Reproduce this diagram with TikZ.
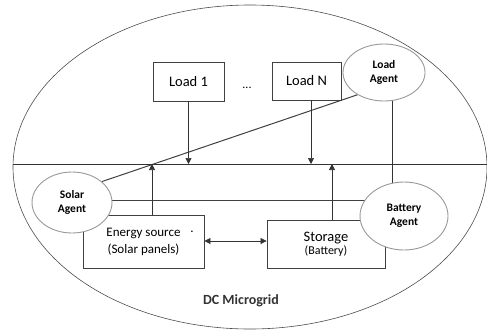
\documentclass[tikz,border=0pt]{standalone}
\usepackage{fontspec}
\setmainfont{Carlito}
\usetikzlibrary{shapes.geometric,arrows.meta}
\pgfdeclarelayer{bg}
\pgfsetlayers{bg,main}
\begin{document}
\begin{tikzpicture}[x=1pt,y=-1pt,
  box/.style={draw=black!75,line width=0.8pt,inner sep=0pt},
  agent/.style={ellipse,draw=black!40,line width=0.9pt,fill=white,inner sep=0pt,font=\bfseries\fontsize{11.5}{14}\selectfont,align=center},
  arr/.style={-{Triangle[length=6pt,width=6pt]},line width=0.7pt,draw=black!80},
  link/.style={line width=1pt,draw=black!75}]
\useasboundingbox (0,0) rectangle (487,330);
\node[ellipse,draw=black!70,line width=0.6pt,minimum width=474pt,minimum height=324pt,inner sep=0pt] (grid) at (250,167) {};
\coordinate (busL) at (13,164);
\coordinate (busR) at (487,164);
\draw[line width=0.7pt,black!80] (busL) -- (busR);
\node[box,minimum width=71pt,minimum height=39pt,font=\fontsize{14.5}{16}\selectfont] (l1) at (188.5,81.5) {Load 1};
\node[box,minimum width=69pt,minimum height=38pt,font=\fontsize{14.5}{16}\selectfont] (ln) at (306.5,81) {Load N};
\node (dots) at (247,88) {\fontsize{12}{12}\selectfont ...};
\node[box,minimum width=121pt,minimum height=53pt,align=center,font=\fontsize{13}{17}\selectfont] (es) at (143.5,241.5) {Energy source\\(Solar panels)};
\node[font=\fontsize{13}{15}\selectfont] (esdot) at (192,232) {.};
\node[box,minimum width=118pt,minimum height=48pt,align=center] (st) at (326,244) {{\fontsize{14.5}{16}\selectfont Storage}\\[1pt]{\fontsize{12}{13}\selectfont (Battery)}};
\node[agent,minimum width=82pt,minimum height=57pt] (la) at (384,72.5) {Load\\Agent};
\node[agent,minimum width=80pt,minimum height=61pt] (sa) at (72,202.5) {Solar\\Agent};
\node[agent,minimum width=88pt,minimum height=68pt] (ba) at (404,216) {Battery\\Agent};
\node[font=\bfseries\fontsize{14}{16}\selectfont,text=black!80] (dc) at (241,301) {DC Microgrid};
% flows
\draw[arr] (l1.south) -- (l1.south |- busL);
\draw[arr] (ln.south -| 311,0) -- (311,164);
\draw[arr] (es.north -| 152,0) -- (152,164);
\draw[arr] (st.north -| 332,0) -- (332,164);
\draw[{Triangle[length=6pt,width=6pt]}-{Triangle[length=6pt,width=6pt]},line width=0.7pt,black!80] (es.east |- 0,241) -- (st.west |- 0,241);
% agent links
\begin{pgfonlayer}{bg}
\draw[link] (la.220) -- (sa.35);
\draw[link] (sa.center |- 0,200) -- (ba.center |- 0,200);
\draw[line width=0.7pt,black!80] (392,95) -- (392,200);
\end{pgfonlayer}
\end{tikzpicture}
\end{document}
